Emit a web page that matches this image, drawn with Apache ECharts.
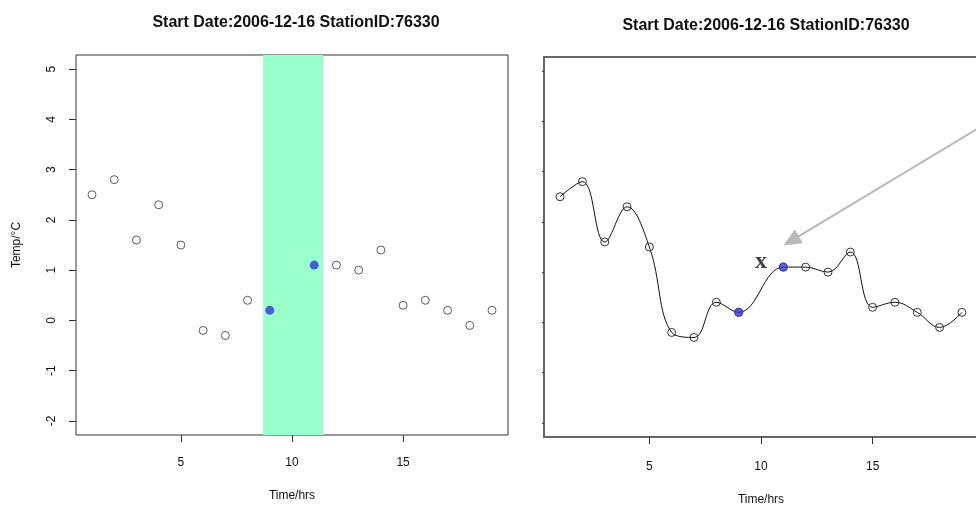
<!DOCTYPE html>
<html>
<head>
<meta charset="utf-8">
<script src="https://cdn.jsdelivr.net/npm/echarts@6/dist/echarts.min.js"></script>
<style>
  html, body { margin: 0; padding: 0; background: #fff; }
  #chart { width: 976px; height: 507px; }
</style>
</head>
<body>
<div id="chart"></div>
<script>
// Hourly temperatures for one station, one day
const hours = [1, 2, 3, 4, 5, 6, 7, 8, 9, 11, 12, 13, 14, 15, 16, 17, 18, 19];
const temps = [2.5, 2.8, 1.6, 2.3, 1.5, -0.2, -0.3, 0.4, 0.2, 1.1, 1.1, 1.0, 1.4, 0.3, 0.4, 0.2, -0.1, 0.2];
// Hours either side of the missing reading
const highlightHours = [9, 11];
// Shaded window around the gap
const bandRange = [8.7, 11.4];
// Tick values
const xTicks = [5, 10, 15];
const yTicks = [-2, -1, 0, 1, 2, 3, 4, 5];
// Annotation: marker text and arrow (data coordinates)
const noteText = 'x';
const noteAt = [10, 1.2];
const arrowFrom = [19.68, 3.85];
const arrowTo = [11.35, 1.62];

const titleText = 'Start Date:2006-12-16 StationID:76330';
const xName = 'Time/hrs';
const yName = 'Temp/°C';

const pairs = hours.map((h, i) => [h, temps[i]]);
const isHi = p => highlightHours.indexOf(p[0]) >= 0;
const normalPts = pairs.filter(p => !isHi(p));
const hiPts = pairs.filter(isHi);

const FONT = 'Liberation Sans, Arial, sans-serif';
const BLUE = '#3434d6';

function xAxisFor(gridIndex, labelMargin, nameGap) {
  return {
    type: 'value', gridIndex,
    min: 0.28, max: 19.72,
    splitLine: { show: false },
    axisLine: { show: false, onZero: false },
    axisTick: { show: true, length: 7, customValues: xTicks, lineStyle: { color: '#333' } },
    axisLabel: { customValues: xTicks, margin: labelMargin, color: '#111', fontSize: 12, fontFamily: FONT },
    name: xName, nameLocation: 'middle', nameGap,
    nameTextStyle: { color: '#111', fontSize: 12, fontFamily: FONT }
  };
}

const chart = echarts.init(document.getElementById('chart'), null, { renderer: 'canvas' });

chart.setOption({
  animation: false,
  backgroundColor: '#fff',
  title: [
    { text: titleText, left: 291, top: 10, textAlign: 'center',
      textStyle: { fontSize: 16, fontWeight: 'bold', color: '#111', fontFamily: FONT } },
    { text: titleText, left: 761, top: 13, textAlign: 'center',
      textStyle: { fontSize: 16, fontWeight: 'bold', color: '#111', fontFamily: FONT } }
  ],
  grid: [
    { left: 76, top: 55, width: 432, height: 380, show: true, borderColor: '#333', borderWidth: 1,
      backgroundColor: 'transparent', outerBoundsMode: 'none', containLabel: false },
    { left: 544, top: 57, width: 434, height: 380, show: true, borderColor: '#666', borderWidth: 2,
      backgroundColor: 'transparent', outerBoundsMode: 'none', containLabel: false }
  ],
  xAxis: [
    xAxisFor(0, 22, 55),
    xAxisFor(1, 24, 57)
  ],
  yAxis: [
    {
      type: 'value', gridIndex: 0,
      min: -2.28, max: 5.28,
      splitLine: { show: false },
      axisLine: { show: false, onZero: false },
      axisTick: { show: true, length: 7, customValues: yTicks, lineStyle: { color: '#333' } },
      axisLabel: { customValues: yTicks, rotate: 90, margin: 18, color: '#111', fontSize: 12, fontFamily: FONT },
      name: yName, nameLocation: 'middle', nameGap: 53, nameRotate: 90,
      nameTextStyle: { color: '#111', fontSize: 12, fontFamily: FONT }
    },
    {
      type: 'value', gridIndex: 1,
      min: -2.28, max: 5.28,
      splitLine: { show: false },
      axisLine: { show: false, onZero: false },
      axisTick: { show: true, length: 2, customValues: yTicks, lineStyle: { color: '#333' } },
      axisLabel: { show: false }
    }
  ],
  series: [
    // Left: shaded window plus raw observations
    {
      type: 'scatter', xAxisIndex: 0, yAxisIndex: 0,
      data: normalPts, symbol: 'circle', symbolSize: 8,
      itemStyle: { color: '#fff', borderColor: '#333', borderWidth: 1 },
      markArea: {
        silent: true,
        itemStyle: { color: '#99ffcc' },
        data: [[{ xAxis: bandRange[0] }, { xAxis: bandRange[1] }]]
      },
      z: 3
    },
    {
      type: 'scatter', xAxisIndex: 0, yAxisIndex: 0,
      data: hiPts, symbol: 'circle', symbolSize: 9,
      itemStyle: { color: BLUE },
      z: 4
    },
    // Right: smoothed curve through the observations
    {
      type: 'line', xAxisIndex: 1, yAxisIndex: 1,
      data: pairs, smooth: 0.4, showAllSymbol: true,
      symbol: 'circle', symbolSize: 8,
      lineStyle: { color: '#111', width: 1 },
      itemStyle: { color: 'rgba(0,0,0,0)', borderColor: '#333', borderWidth: 1 },
      markLine: {
        silent: true,
        symbol: ['none', 'triangle'],
        symbolSize: [16, 18],
        lineStyle: { color: '#b8b8b8', width: 2, type: 'solid' },
        label: { show: false },
        data: [[{ coord: arrowFrom }, { coord: arrowTo }]]
      },
      z: 3
    },
    {
      type: 'scatter', xAxisIndex: 1, yAxisIndex: 1,
      data: hiPts, symbol: 'circle', symbolSize: 9,
      itemStyle: { color: BLUE },
      z: 4
    },
    {
      type: 'scatter', xAxisIndex: 1, yAxisIndex: 1,
      data: [noteAt], symbolSize: 0,
      label: {
        show: true, position: 'inside', formatter: noteText,
        fontFamily: 'Liberation Serif, DejaVu Serif, serif', fontWeight: 'bold',
        fontSize: 24, color: '#111'
      },
      z: 5
    }
  ]
});
</script>
</body>
</html>
